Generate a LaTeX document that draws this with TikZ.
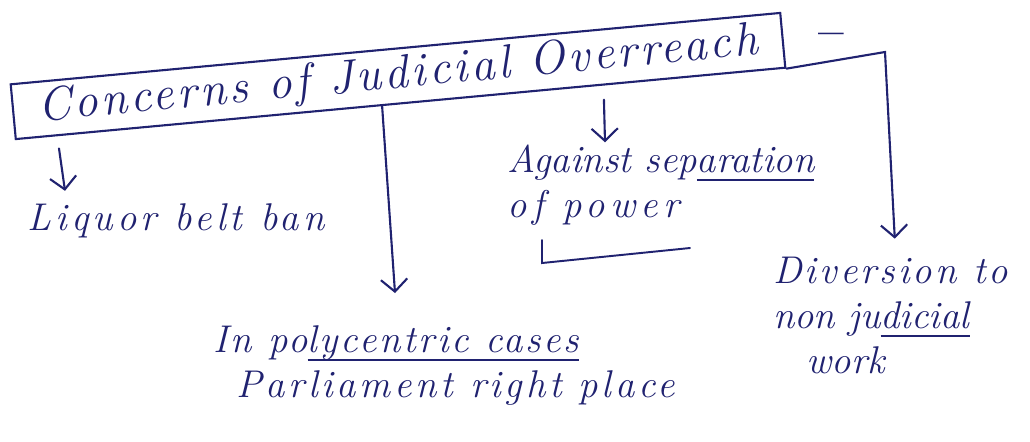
\documentclass[tikz,border=0pt]{standalone}
\usepackage{fontspec}
\setmainfont{Latin Modern Roman}
\usetikzlibrary{arrows.meta,calc}
\definecolor{ink}{RGB}{32,34,112}
\newcommand{\spaced}[1]{\addfontfeature{LetterSpace=#1}}
% underline drawn as an ink stroke just below the baseline
\newcommand{\inkline}[1]{\sbox0{#1}\rlap{\rule[-5pt]{\wd0}{1.1pt}}\usebox0}
\begin{document}
\begin{tikzpicture}[x=0.02cm,y=-0.02cm,
  hand/.style={text=ink, inner sep=0pt, align=left,
    font=\fontsize{22}{25.5}\selectfont\itshape},
  titlebox/.style={draw=ink, line width=1.2pt, text=ink, rotate=5.3,
    minimum width=15.46cm, minimum height=1.1cm, inner sep=0pt,
    font=\fontsize{27}{30}\selectfont\itshape\spaced{7}},
  conn/.style={draw=ink, line width=1.2pt, line cap=round,
    -{Straight Barb[length=7pt,width=15pt,line width=1.2pt]}},
  uline/.style={draw=ink, line width=1.1pt, line cap=round}]
\fill[white] (0,0) rectangle (1030,441);
\useasboundingbox (0,0) rectangle (1030,441);

% heading box and the trailing dash
\node[titlebox] (title) at (398,76) {Concerns of Judicial Overreach};
\node[hand, font=\fontsize{26}{26}\selectfont\bfseries] (dash) at (831,40) {--};

% the four concerns (anchored on the baseline of the last line)
\node[hand, anchor=base west] (liq) at (27,230) {\spaced{11}Liquor belt ban};
\node[hand, anchor=base west] (sep) at (507,217)
  {Against sep\inkline{aration}\\\spaced{14}of power};
\node[hand, anchor=base west] (poly) at (213,397)
  {\spaced{7}In po\inkline{lycentric cases}\\\hspace*{13pt}\spaced{9.5}Parliament right place};
\node[hand, anchor=base west] (div) at (773,373)
  {\spaced{8}Diversion to\\non ju\inkline{dicial}\\\hspace*{19pt}work};

% connectors from the heading
\coordinate (bend) at (885,52);
\draw[conn, shorten <=7pt] ($(title.south west)!0.055!(title.south east)$) -- ($(liq.north west)+(38,-12)$);
\draw[conn] ($(title.south west)!0.476!(title.south east)$) -- ($(poly.north west)+(182,-32)$);
\draw[conn, shorten <=8pt] ($(title.south west)!0.763!(title.south east)$) -- ($(sep.north west)+(98,-2)$);
\draw[conn] (title.south east) -- (bend) -- ($(div.north)+(4,-18)$);

% bracket under "of power"
\draw[uline] (542,240) -- (542,263) -- (690,248);
\end{tikzpicture}
\end{document}
